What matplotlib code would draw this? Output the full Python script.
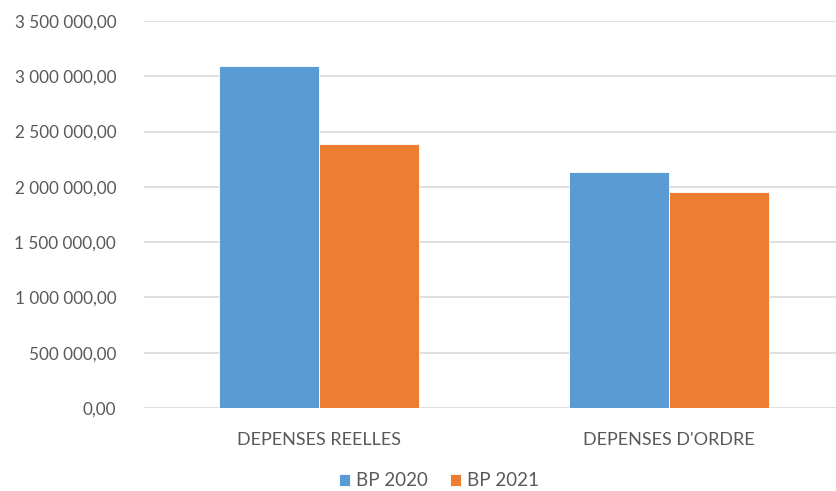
import matplotlib
matplotlib.use("Agg")
import matplotlib.pyplot as plt
import numpy as np

categories = ["DEPENSES REELLES", "DEPENSES D'ORDRE"]
series_names = ["BP 2020", "BP 2021"]
bp_2020 = [3090000, 2138000]
bp_2021 = [2387000, 1952000]
y_ticks = [0, 500000, 1000000, 1500000, 2000000, 2500000, 3000000, 3500000]

colors = ["#5B9BD5", "#ED7D31"]
text_color = "#595959"
grid_color = "#D9D9D9"

plt.rcParams["font.family"] = ["Lato", "DejaVu Sans"]

W, H = 837, 491
fig = plt.figure(figsize=(W / 100, H / 100), dpi=100)
ax = fig.add_axes([144 / W, 1 - 408 / H, 693 / W, (408 - 21) / H])

x = np.arange(len(categories))
bw = 100 / 350
for i, (vals, name) in enumerate(zip([bp_2020, bp_2021], series_names)):
    ax.bar(x + (i - 0.5) * bw, vals, width=bw, color=colors[i], label=name,
           edgecolor="white", linewidth=0.6, zorder=3)

ax.set_xlim(-0.5, -0.5 + 693 / 350)
ax.set_ylim(0, 3500000)
ax.set_yticks(y_ticks)


def fmt(v):
    s = f"{v:,.2f}".replace(",", " ").replace(".", ",")
    return s


ax.set_yticklabels([fmt(v) for v in y_ticks])
ax.set_xticks(x)
ax.set_xticklabels(categories)
ax.tick_params(axis="both", length=0, colors=text_color)
ax.tick_params(axis="y", pad=20, labelsize=12.3)
ax.tick_params(axis="x", pad=17, labelsize=13)
ax.grid(axis="y", color=grid_color, linewidth=1.2, zorder=0)
for s in ax.spines.values():
    s.set_visible(False)

handles, labels = ax.get_legend_handles_labels()
leg = fig.legend(handles, labels, loc="center", bbox_to_anchor=(439 / W, 1 - 481 / H),
                 ncol=2, frameon=False, fontsize=13.5, handlelength=0.6, handleheight=0.6,
                 handletextpad=0.3, columnspacing=1.2)
for t in leg.get_texts():
    t.set_color(text_color)

fig.savefig("out.png", dpi=100)
